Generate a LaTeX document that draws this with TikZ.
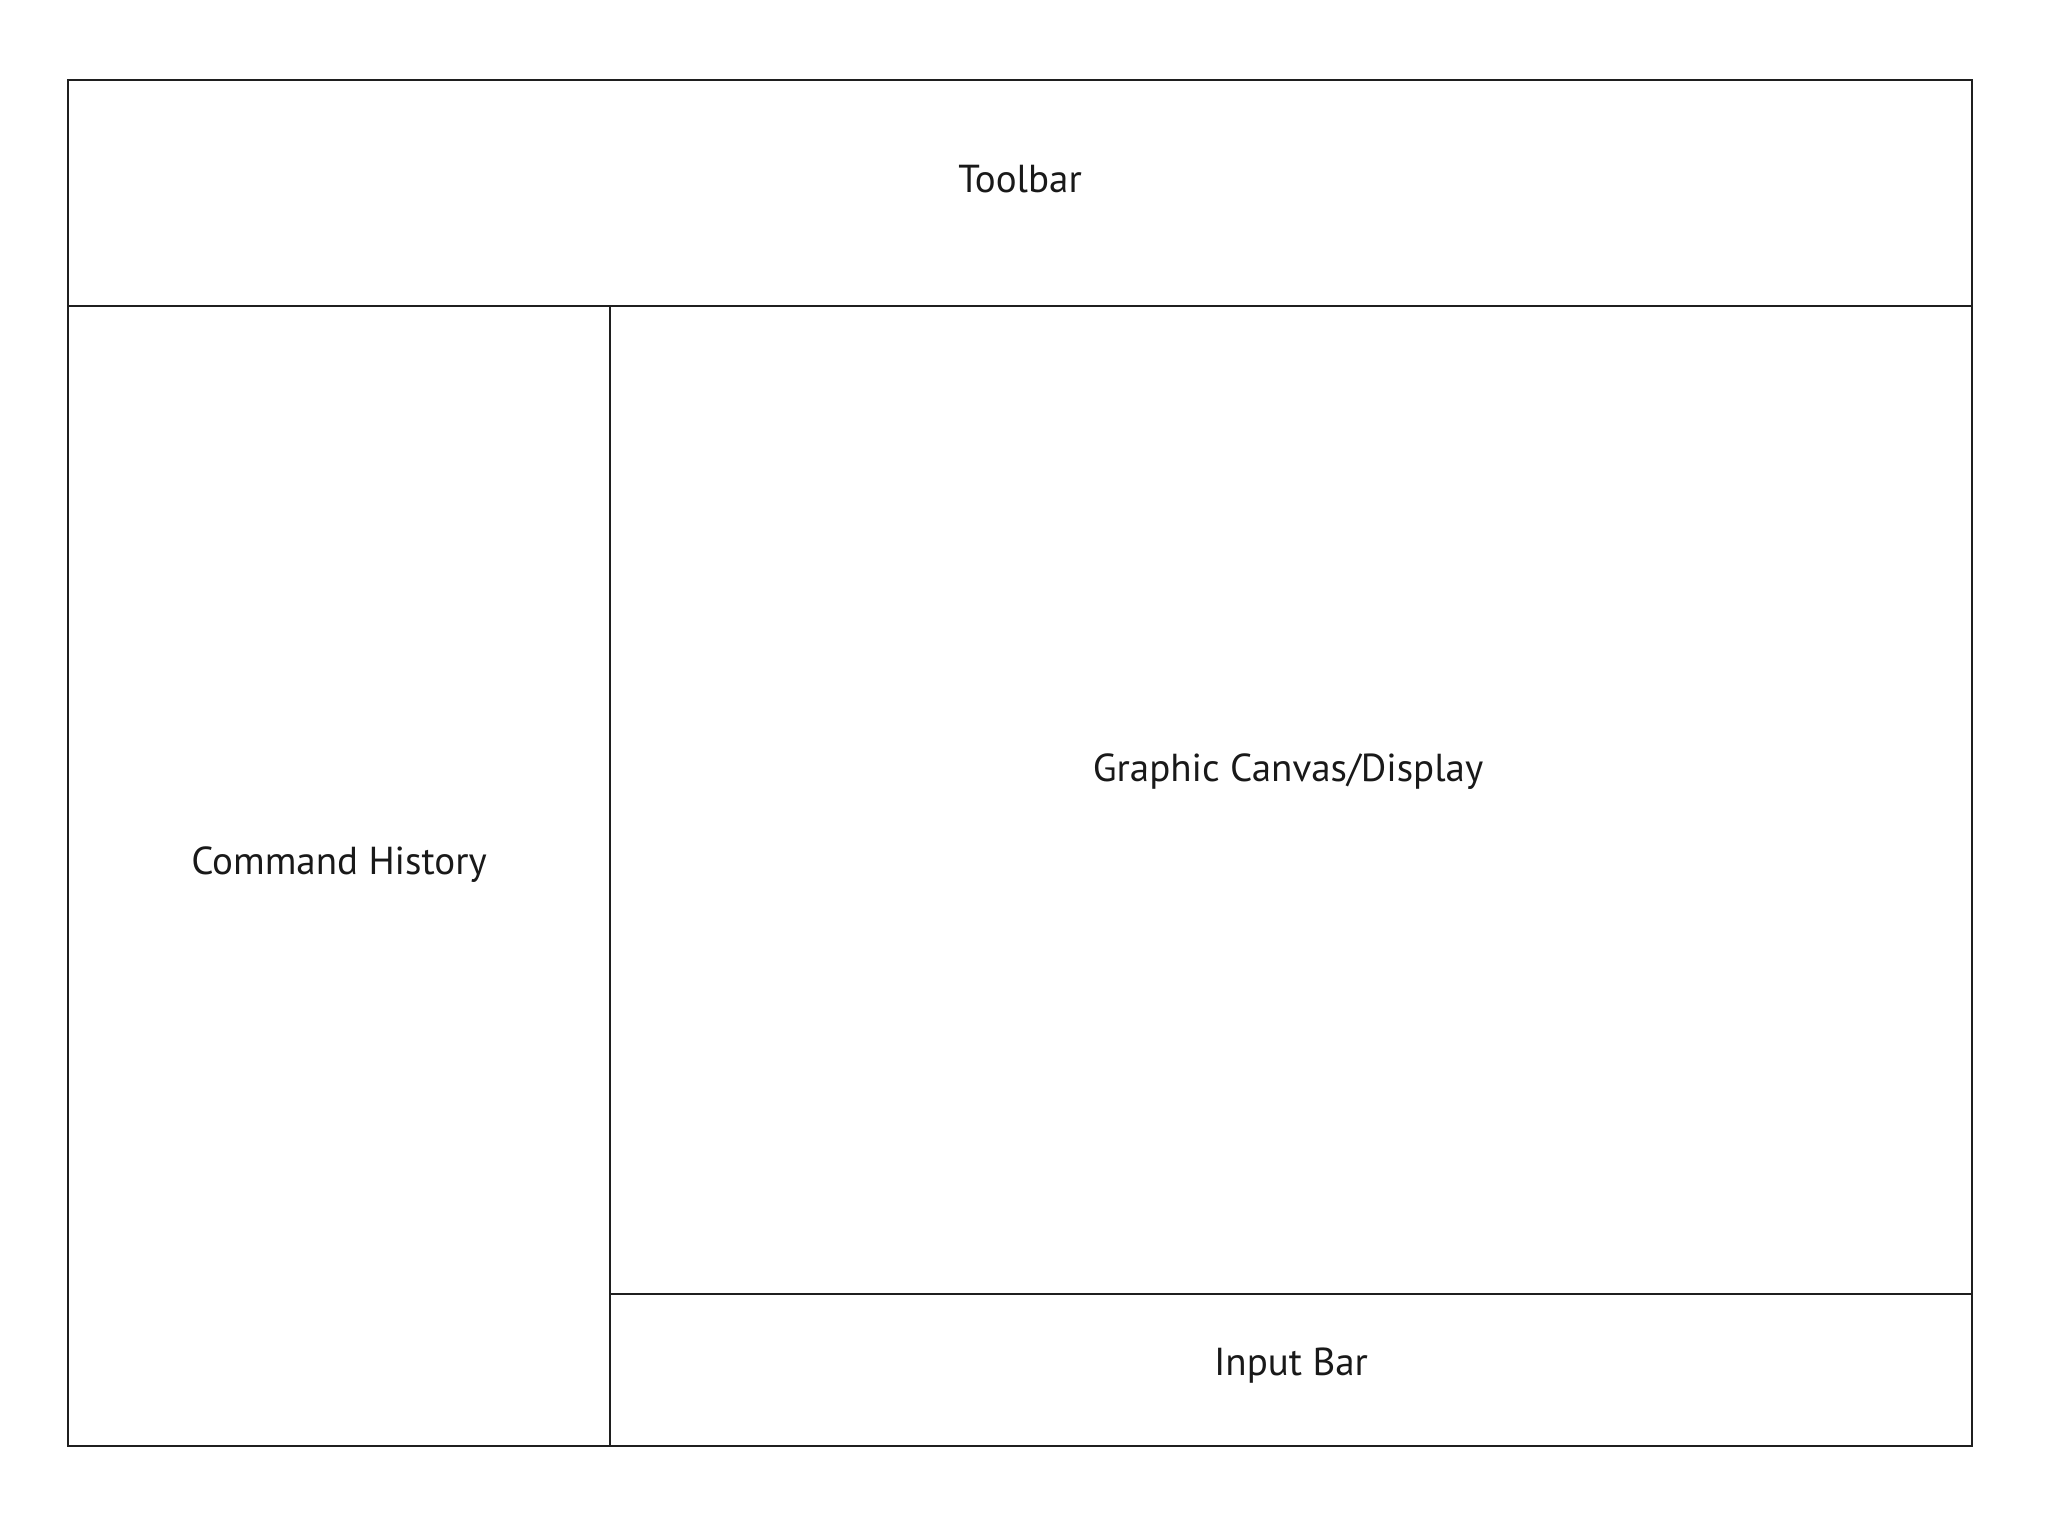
\documentclass[tikz,border=0pt]{standalone}
\usepackage{fontspec}
\setmainfont{PT Sans}
\begin{document}
\begin{tikzpicture}[x=0.5pt,y=-0.5pt,
  panel/.style={draw=black!88,line width=1pt},
  lbl/.style={anchor=base,inner sep=0pt,text=black!90,font=\fontsize{19.5}{23}\selectfont}]
\useasboundingbox (0,0) rectangle (2048,1524);
\draw[panel] (68,80) rectangle (1972,1446);
\draw[panel] (68,306) -- (1972,306);
\draw[panel] (610,306) -- (610,1446);
\draw[panel] (610,1294) -- (1972,1294);
\node[lbl] (toolbar) at (1020,193) {Toolbar};
\node[lbl] (canvas) at (1288,781) {Graphic Canvas/Display};
\node[lbl] (history) at (339,874) {Command History};
\node[lbl] (input) at (1291,1375) {Input Bar};
\end{tikzpicture}
\end{document}
